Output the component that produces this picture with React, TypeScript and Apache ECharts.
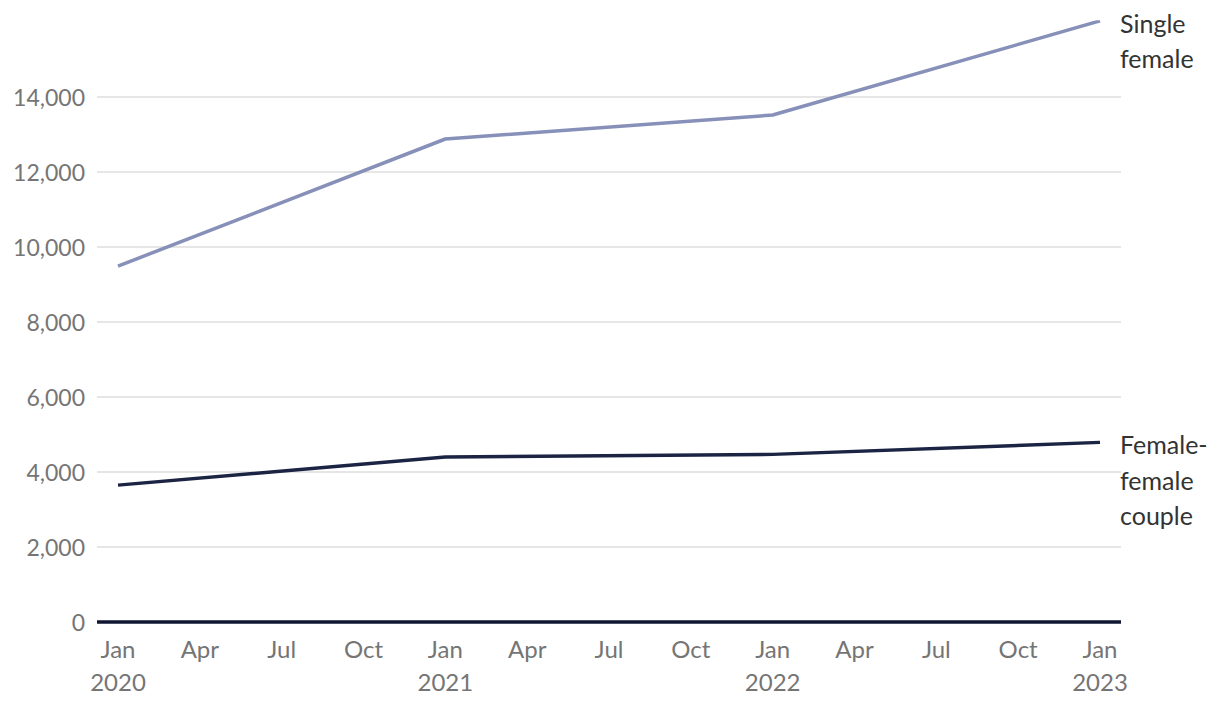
import React, { useEffect, useRef } from "react";
import * as echarts from "echarts";

// x positions: months since Jan 2020
const pointMonths = [0, 12, 24, 36];
const singleFemale = [9490, 12880, 13520, 16030];
const femaleCouple = [3650, 4400, 4470, 4790];
const tickMonths = [0, 3, 6, 9, 12, 15, 18, 21, 24, 27, 30, 33, 36];
const tickLabels = [
  "Jan\n2020", "Apr", "Jul", "Oct",
  "Jan\n2021", "Apr", "Jul", "Oct",
  "Jan\n2022", "Apr", "Jul", "Oct",
  "Jan\n2023",
];
const seriesNames = ["Single\nfemale", "Female-\nfemale\ncouple"];

const FONT = "Lato, 'Noto Sans', sans-serif";

export default function App() {
  const ref = useRef<HTMLDivElement>(null);
  useEffect(() => {
    document.body.style.margin = "0";
    const chart = echarts.init(ref.current!, null, { renderer: "svg" });
    const labelMap: Record<number, string> = {};
    tickMonths.forEach((m, i) => (labelMap[m] = tickLabels[i]));
    const mk = (vals: number[]) => pointMonths.map((m, i) => [m, vals[i]]);
    const endLabel = (text: string) => ({
      show: true,
      formatter: text,
      distance: 20,
      color: "#333333",
      fontFamily: FONT,
      fontSize: 25,
      lineHeight: 35.5,
      align: "left",
      verticalAlign: "top",
      offset: [0, -16],
    });
    chart.setOption({
      animation: false,
      grid: { left: 97, right: 99, top: 22, bottom: 86, containLabel: false },
      xAxis: {
        type: "value",
        min: -0.77,
        max: 36.77,
        axisLine: { show: false },
        axisTick: { show: false },
        splitLine: { show: false },
        axisLabel: {
          customValues: tickMonths,
          formatter: (v: number) => labelMap[Math.round(v)] ?? "",
          color: "#757575",
          fontFamily: FONT,
          fontSize: 24,
          lineHeight: 33,
          margin: 10,
          showMinLabel: true,
          showMaxLabel: true,
        },
      },
      yAxis: {
        type: "value",
        min: 0,
        max: 16000,
        interval: 2000,
        axisLine: { show: false },
        axisTick: { show: false },
        axisLabel: {
          showMaxLabel: false,
          formatter: (v: number) => (v >= 16000 ? "" : v.toLocaleString("en-US")),
          color: "#757575",
          fontFamily: FONT,
          fontSize: 23,
          margin: 12,
        },
        splitLine: {
          lineStyle: {
            color: ["#dedede", "#dedede", "#dedede", "#dedede", "#dedede", "#dedede", "#dedede", "#dedede", "rgba(0,0,0,0)"],
            width: 1.5,
          },
        },
      },
      series: [
        {
          type: "line",
          name: "Single female",
          data: mk(singleFemale),
          showSymbol: false,
          symbol: "none",
          lineStyle: { color: "#8790b8", width: 3.5 },
          itemStyle: { color: "#8790b8" },
          endLabel: endLabel(seriesNames[0]),
          z: 3,
        },
        {
          type: "line",
          name: "Female-female couple",
          data: mk(femaleCouple),
          showSymbol: false,
          symbol: "none",
          lineStyle: { color: "#1c2444", width: 3.5 },
          itemStyle: { color: "#1c2444" },
          endLabel: endLabel(seriesNames[1]),
          z: 3,
          markLine: {
            silent: true,
            symbol: "none",
            label: { show: false },
            lineStyle: { color: "#0e1632", width: 3.5, type: "solid" },
            data: [{ yAxis: 0 }],
          },
        },
      ],
    });
    return () => chart.dispose();
  }, []);
  return <div ref={ref} style={{ width: 1220, height: 708 }} />;
}
